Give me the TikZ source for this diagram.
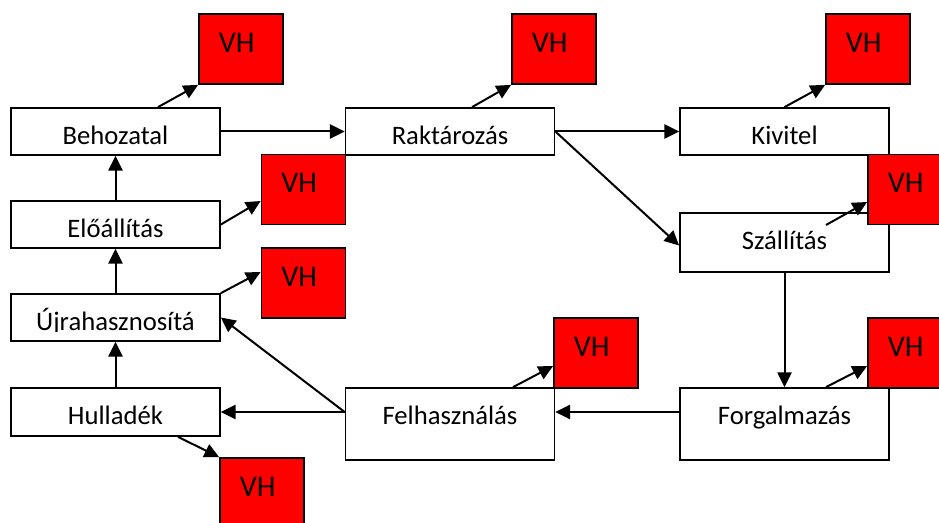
\documentclass[tikz,border=0pt]{standalone}
\usepackage{fontspec}
\setmainfont{Carlito}
\usetikzlibrary{arrows.meta,calc}

\begin{document}
\begin{tikzpicture}[x=0.75pt, y=-0.75pt, >={Triangle[length=11pt,width=10.5pt]},
	every node/.style={font=\fontsize{20}{24}\selectfont},
	doboz/.style={draw, fill=white, line width=1.3pt, minimum width=156.75pt, inner xsep=0pt, inner ysep=0pt, text height=27.4pt, text depth=#1},
	doboz/.default=7.85pt,
	vh/.style={draw, fill=red, line width=1.3pt, minimum width=63pt, inner xsep=0pt, inner ysep=0pt, text height=28.7pt, text depth=23.8pt,
		font=\fontsize{22.5}{27}\selectfont, execute at end node={\hspace{6.5pt}}},
	nyil/.style={->, line width=1.5pt}]
	\useasboundingbox (0,0) rectangle (939,523);
	% bal oszlop
	\node[doboz] (beh) at (115.5,131.5) {Behozatal};
	\node[doboz] (elo) at (115.5,224.5) {Előállítás};
	% a j alja le van vágva, mint a képen
	\node[doboz, path picture={\clip (path picture bounding box.north west) rectangle ($(path picture bounding box.north east)+(0,37.5)$);
		\node[anchor=base] at ($(path picture bounding box.north)+(0,36.6)$) {Újrahasznosítá};}] (uir) at (115.5,317.5) {};
	\node[doboz=8.6pt] (hul) at (115.5,412) {Hulladék};
	% közép és jobb oszlop
	\node[doboz] (rak) at (450,131.5) {Raktározás};
	\node[doboz] (kiv) at (784.5,131.5) {Kivitel};
	\node[doboz=16.85pt] (szal) at (784.5,242.5) {Szállítás};
	\node[doboz=26.6pt] (felh) at (450,424) {Felhasználás};
	\node[doboz=26.6pt] (forg) at (784.5,424) {Forgalmazás};
	% VH dobozok
	\node[vh] (vhbeh) at (241,49) {VH};
	\node[vh] (vhelo) at (303.5,189.5) {VH};
	\node[vh] (vhuir) at (303.5,283) {VH};
	\node[vh] (vhhul) at (262,493) {VH};
	\node[vh] (vhrak) at (554,49) {VH};
	\node[vh] (vhkiv) at (868,49) {VH};
	\node[vh] (vhszal) at (910,189.5) {VH};
	\node[vh] (vhfelh) at (596,353) {VH};
	\node[vh] (vhforg) at (910,353) {VH};
	% folyamat
	\draw[nyil] (beh) -- (rak);
	\draw[nyil] (rak) -- (kiv);
	\draw[nyil] (rak.east) -- ($(szal.west)+(0,3)$);
	\draw[nyil] (szal) -- (forg);
	\draw[nyil] ($(forg.west)+(0,-12)$) -- ($(felh.east)+(0,-12)$);
	\draw[nyil] ($(felh.west)+(0,-12)$) -- (hul.east);
	\draw[nyil] ($(felh.west)+(0,-12)$) -- (uir.east);
	\draw[nyil] (hul) -- (uir);
	\draw[nyil] (uir) -- (elo);
	\draw[nyil] (elo) -- (beh);
	% nyilak a VH dobozokhoz
	\draw[nyil] ($(beh.north)+(42.5,0)$) -- (vhbeh.south west);
	\draw[nyil] (elo.east) -- ($(vhelo.west)+(0,11.5)$);
	\draw[nyil] (uir.north east) -- ($(vhuir.west)+(0,-11)$);
	\draw[nyil] ($(hul.south)+(62.5,0)$) -- (vhhul.north west);
	\draw[nyil] ($(rak.north)+(22,0)$) -- (vhrak.south west);
	\draw[nyil] (kiv.north) -- (vhkiv.south west);
	\draw[nyil] ($(szal.center)+(41.5,-17.5)$) -- ($(vhszal.west)+(0,12.5)$);
	\draw[nyil] ($(felh.north)+(63,0)$) -- ($(vhfelh.west)+(0,13)$);
	\draw[nyil] ($(forg.north)+(41.5,0)$) -- ($(vhforg.west)+(0,13)$);
\end{tikzpicture}
\end{document}
